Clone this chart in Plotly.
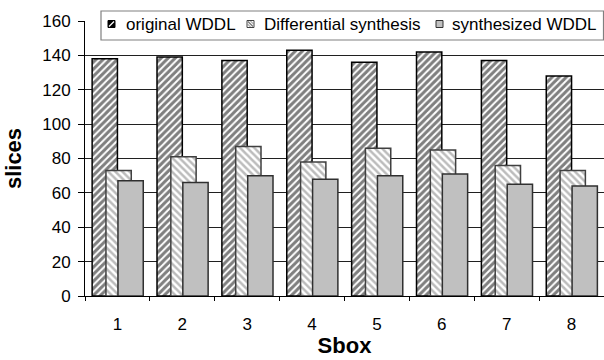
import plotly.graph_objects as go

categories = ["1", "2", "3", "4", "5", "6", "7", "8"]
original_wddl = [138, 139, 137, 143, 136, 142, 137, 128]
differential_synthesis = [73, 81, 87, 78, 86, 85, 76, 73]
synthesized_wddl = [67, 66, 70, 68, 70, 71, 65, 64]
y_ticks = [0, 20, 40, 60, 80, 100, 120, 140, 160]
series_names = ["original WDDL", "Differential synthesis", "synthesized WDDL"]

FONT = "Arial"
W = 0.39
L, R, T, B = 85, 0, 21, 64
PW, PH = 604 - L - R, 360 - T - B


def px(x):
    return (x - L) / PW


def py(y):
    return (360 - B - y) / PH


fig = go.Figure()
fig.add_trace(go.Bar(
    x=categories, y=original_wddl, name=series_names[0],
    width=W, offset=-0.39,
    marker=dict(color="white", line=dict(color="black", width=1.5),
                pattern=dict(shape="/", fgcolor="black", bgcolor="white",
                             size=5, solidity=0.6)),
))
fig.add_trace(go.Bar(
    x=categories, y=differential_synthesis, name=series_names[1],
    width=W, offset=-0.177,
    marker=dict(color="white", line=dict(color="#404040", width=1.5),
                pattern=dict(shape="\\", fgcolor="#7a7a7a", bgcolor="white",
                             size=5, solidity=0.5)),
))
fig.add_trace(go.Bar(
    x=categories, y=synthesized_wddl, name=series_names[2],
    width=W, offset=0.008,
    marker=dict(color="#C0C0C0", line=dict(color="#303030", width=1.5)),
))

# manual legend (box, swatches, labels)
shapes = []
annotations = []
shapes.append(dict(type="rect", xref="paper", yref="paper",
                   x0=px(101), x1=px(603.5), y0=py(40), y1=py(11),
                   fillcolor="white", line=dict(color="#808080", width=1.2),
                   layer="above"))
sw_x = [108, 247, 436]
tx_x = [124, 262, 450]
sy0, sy1 = 20.5, 27.5
# swatch 1: black hatched
shapes.append(dict(type="rect", xref="paper", yref="paper",
                   x0=px(sw_x[0]), x1=px(sw_x[0] + 7), y0=py(sy1), y1=py(sy0),
                   fillcolor="black", line=dict(color="black", width=1), layer="above"))
shapes.append(dict(type="line", xref="paper", yref="paper",
                   x0=px(sw_x[0] + 1), x1=px(sw_x[0] + 6), y0=py(sy1 - 1), y1=py(sy0 + 1),
                   line=dict(color="white", width=1.3), layer="above"))
# swatch 2: gray back-hatched
shapes.append(dict(type="rect", xref="paper", yref="paper",
                   x0=px(sw_x[1]), x1=px(sw_x[1] + 7), y0=py(sy1), y1=py(sy0),
                   fillcolor="white", line=dict(color="#404040", width=1), layer="above"))
shapes.append(dict(type="line", xref="paper", yref="paper",
                   x0=px(sw_x[1] + 1), x1=px(sw_x[1] + 6), y0=py(sy0 + 1), y1=py(sy1 - 1),
                   line=dict(color="#808080", width=1.5), layer="above"))
shapes.append(dict(type="line", xref="paper", yref="paper",
                   x0=px(sw_x[1] + 3.5), x1=px(sw_x[1] + 6.5), y0=py(sy0 + 0.5), y1=py(sy0 + 3.5),
                   line=dict(color="#808080", width=1), layer="above"))
shapes.append(dict(type="line", xref="paper", yref="paper",
                   x0=px(sw_x[1] + 0.5), x1=px(sw_x[1] + 3.5), y0=py(sy1 - 3.5), y1=py(sy1 - 0.5),
                   line=dict(color="#808080", width=1), layer="above"))
# swatch 3: solid silver
shapes.append(dict(type="rect", xref="paper", yref="paper",
                   x0=px(sw_x[2]), x1=px(sw_x[2] + 7), y0=py(sy1), y1=py(sy0),
                   fillcolor="#C0C0C0", line=dict(color="#303030", width=1), layer="above"))
for name, x in zip(series_names, tx_x):
    annotations.append(dict(text=name, xref="paper", yref="paper",
                            x=px(x), y=py(24.5), xanchor="left", yanchor="middle",
                            showarrow=False,
                            font=dict(family=FONT, size=17, color="black")))

fig.update_layout(
    width=604, height=360,
    margin=dict(l=L, r=R, t=T, b=B, autoexpand=False),
    barmode="overlay",
    plot_bgcolor="white", paper_bgcolor="white",
    font=dict(family=FONT, size=17, color="black"),
    showlegend=False,
    shapes=shapes,
    annotations=annotations,
    xaxis=dict(
        type="category", range=[-0.5, 7.5], automargin=False,
        showline=True, linecolor="black", linewidth=1,
        ticks="outside", tickson="boundaries", ticklen=4, tickcolor="black",
        showgrid=False,
        ticklabelstandoff=13,
        title=dict(text="<b>Sbox</b>", font=dict(family=FONT, size=22), standoff=4),
        tickfont=dict(family=FONT, size=17),
    ),
    yaxis=dict(
        range=[0, 160], tickvals=y_ticks, automargin=False,
        showline=True, linecolor="black", linewidth=1,
        ticks="outside", ticklen=6, tickcolor="black",
        showgrid=True, gridcolor="#202020", gridwidth=1,
        zeroline=False,
        ticklabelstandoff=4,
        title=dict(text="<b>slices</b>", font=dict(family=FONT, size=22), standoff=14),
        tickfont=dict(family=FONT, size=17),
    ),
)

fig.write_html("out.html", config={"displayModeBar": False},
               post_script="document.body.style.margin='0';document.body.style.overflow='hidden';")
